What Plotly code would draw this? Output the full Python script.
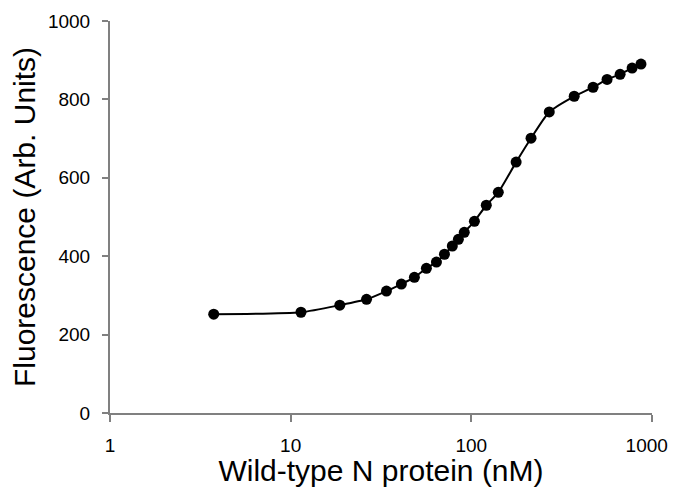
import plotly.graph_objects as go

# Binding curve values
conc_nm = [3.75, 11.4, 18.7, 26.3, 33.9, 41, 48.4, 56.4, 64.1, 71, 78.5, 84.8, 91.4,
           104, 121, 141, 177, 214, 270, 371, 472, 564, 666, 776, 869]
fluor = [252, 257, 275, 290, 311, 329, 346, 369, 385, 405, 426, 443, 461,
         489, 530, 563, 640, 701, 768, 808, 831, 851, 864, 880, 890]

x_ticks = [1, 10, 100, 1000]
# the last label gets two no-break spaces so it stays inside the window
x_tick_text = ["1", "10", "100", "1000\u00a0\u00a0"]

fig = go.Figure()

fig.add_trace(go.Scatter(
    x=conc_nm,
    y=fluor,
    mode="lines+markers",
    line=dict(color="black", width=2, shape="spline", smoothing=0.6),
    marker=dict(color="black", size=11),
    showlegend=False,
))

axis_font = dict(family="Liberation Sans, Arial, sans-serif", size=19, color="black")
title_font = dict(family="Liberation Sans, Arial, sans-serif", size=30, color="black")

# page body adds an 8px margin, so the figure is sized to fit inside the window
fig.update_layout(
    width=662,
    height=479,
    paper_bgcolor="white",
    plot_bgcolor="white",
    margin=dict(l=102, r=18, t=13, b=74),
    xaxis=dict(
        type="log",
        range=[0, 3],
        tickvals=x_ticks,
        ticktext=x_tick_text,
        showgrid=False,
        zeroline=False,
        showline=True,
        linecolor="#808080",
        linewidth=2,
        ticks="outside",
        ticklen=7,
        tickwidth=2,
        tickcolor="#808080",
        tickfont=axis_font,
        ticklabelstandoff=7,
        ticklabeloverflow="allow",
        automargin=False,
        title=dict(text="Wild-type N protein (nM)", font=title_font, standoff=12),
    ),
    yaxis=dict(
        range=[0, 1000],
        dtick=200,
        showgrid=False,
        zeroline=False,
        showline=True,
        linecolor="#808080",
        linewidth=2,
        ticks="outside",
        ticklen=6,
        tickwidth=2,
        tickcolor="#808080",
        tickfont=axis_font,
        ticklabelstandoff=8,
        automargin=False,
        title=dict(text="Fluorescence (Arb. Units)", font=title_font, standoff=12),
    ),
)

fig.write_html("out.html")
